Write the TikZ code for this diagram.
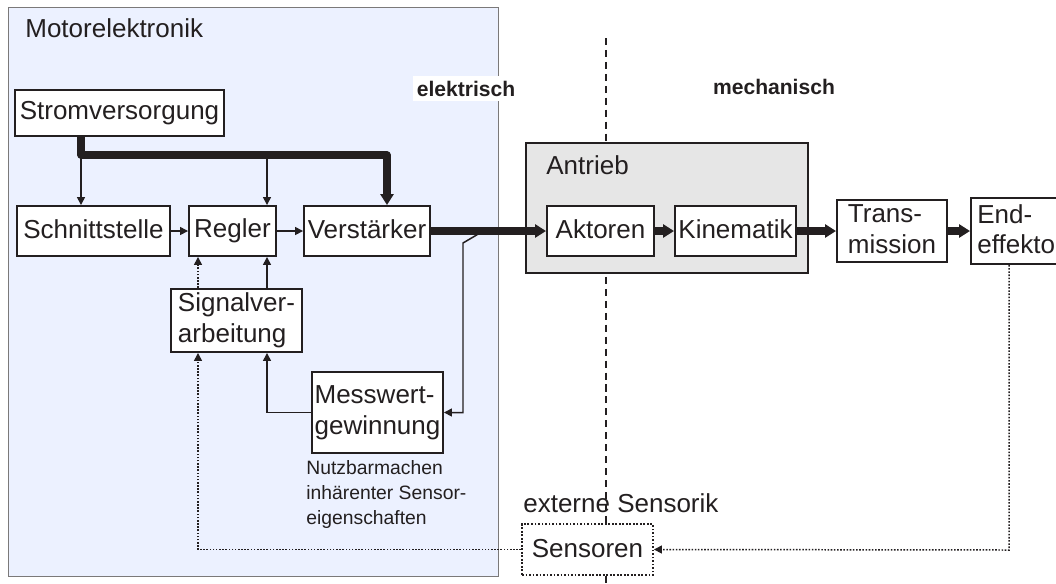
\documentclass[tikz,border=0pt]{standalone}
\usepackage{fontspec}
\setmainfont{Liberation Sans}
\usepackage{tikz}
\usetikzlibrary{positioning,arrows.meta,calc}

\definecolor{ink}{RGB}{35,31,32}
\definecolor{elecfill}{RGB}{236,241,255}
\definecolor{drivefill}{RGB}{230,230,230}
\newcommand{\mainsize}{\fontsize{14.8}{17.5}\selectfont}
\newcommand{\notesize}{\fontsize{11}{14.2}\selectfont}
\newcommand{\headsize}{\fontsize{12}{14}\selectfont\bfseries}
\newcommand{\topstrut}{\rule{0pt}{11pt}}
\newcommand{\botstrut}{\rule[-2.1pt]{0pt}{2.1pt}}

\begin{document}
\begin{tikzpicture}[
        x=0.02cm, y=-0.02cm,
        block/.style={
            draw=ink, fill=white, line width=1.1pt, inner sep=0pt,
            minimum height=1cm, align=left, font=\mainsize, text=ink,
            execute at begin node=\topstrut, execute at end node=\botstrut
        },
        group/.style={draw=ink, line width=1.1pt, inner sep=0pt},
        title/.style={anchor=base west, inner sep=0pt, font=\mainsize, text=ink},
        side/.style={inner sep=0pt, font=\headsize, text=ink},
        sig/.style={-{Triangle[length=1.6mm, width=1.6mm]}, draw=ink, line width=0.85pt},
        power/.style={-{Triangle[length=2.2mm, width=2.6mm]}, draw=ink, line width=4pt},
        sensed/.style={-{Triangle[length=1.6mm, width=1.6mm]}, draw=ink, line width=0.85pt,
            dash pattern=on 0.9pt off 0.9pt}
    ]
        \useasboundingbox (0,0) rectangle (1056,583);
        \clip (0,0) rectangle (1056,583);

        \node[group, fill=elecfill, draw=ink!60, line width=0.6pt, minimum width=9.82cm,
              minimum height=11.4cm] (motor) at (253.5,292) {};
        \node[title] (motorlabel) at (25,37) {Motorelektronik};

        \coordinate (cuttop) at (606,38);
        \coordinate (cutbot) at (606,583);
        \draw[ink, line width=1.4pt, dash pattern=on 4pt off 2.8pt] (cuttop) -- (cutbot);

        \node[group, fill=drivefill, minimum width=5.64cm, minimum height=2.6cm] (antrieb) at (667,208) {};
        \node[title] (antrieblabel) at (546,174) {Antrieb};

        \node[side, fill=white, minimum width=2.14cm, minimum height=0.5cm] (elek) at (466,88.5) {elektrisch};
        \node[side] (mech) at (774,87) {mechanisch};

        \node[block, minimum width=4.18cm, minimum height=0.92cm] (strom) at (119.5,113) {Stromversorgung};
        \node[block, minimum width=3.06cm] (schnitt) at (93.5,231) {Schnittstelle};
        \node[block, minimum width=1.74cm] (regler) at (232.5,231) {Regler};
        \node[block, minimum width=2.52cm] (verst) at (367,231) {Verstärker};
        \node[block, minimum width=2.62cm, minimum height=1.26cm] (signal) at (236.5,320.5) {Signalver-\\arbeitung};
        \node[block, minimum width=2.62cm, minimum height=1.62cm] (mess) at (377.5,412.5) {Messwert-\\gewinnung};
        \node[anchor=north west, inner sep=0pt, align=left, font=\notesize, text=ink] (note) at (306,460)
            {Nutzbarmachen\\inhärenter Sensor-\\eigenschaften};

        \node[block, minimum width=2.14cm] (aktoren) at (600.5,231) {Aktoren};
        \node[block, minimum width=2.42cm] (kinem) at (735.5,231) {Kinematik};
        \node[block, minimum width=2.2cm, minimum height=1.24cm] (trans) at (892,231) {Trans-\\mission};
        \node[block, minimum width=1.98cm, minimum height=1.32cm] (endeff) at (1020.5,231) {End-\\effektor};

        \node[title] (extlabel) at (523,512) {externe Sensorik};
        \node[block, dash pattern=on 1pt off 1pt, minimum width=2.62cm, minimum height=1.02cm]
            (sensoren) at (587.5,549.5) {Sensoren};

        \coordinate (busleft) at (81,155);
        \coordinate (busright) at (387,155);
        \coordinate (bustap) at (267,155);
        \draw[power, line join=round] (strom.south -| busleft) -- (busleft) -- (busright) -- (busright |- verst.north);
        \draw[sig] (busleft) -- (busleft |- schnitt.north);
        \draw[sig] (bustap) -- (bustap |- regler.north);

        \draw[sig] (schnitt) -- (regler);
        \draw[sig] (regler) -- (verst);
        \draw[sig] (bustap |- signal.north) -- (bustap |- regler.south);
        \draw[sig] (mess.west) -| (bustap |- signal.south);

        \draw[power] (verst) -- (aktoren);
        \draw[power] (aktoren) -- (kinem);
        \draw[power] (kinem) -- (trans);
        \draw[power] (trans) -- (endeff);

        \coordinate (fork) at (480,233);
        \coordinate (forkbend) at (463,243);
        \draw[sig] (fork) -- (forkbend) |- (mess.east);

        \coordinate (extleft) at (198,550);
        \coordinate (extright) at (1009,550);
        \draw[sensed] (extright |- endeff.south) -- (extright) -- (sensoren.east);
        \draw[sensed] (sensoren.west) -| (extleft |- signal.south);
        \draw[sensed] (extleft |- signal.north) -- (extleft |- regler.south);
\end{tikzpicture}
\end{document}
